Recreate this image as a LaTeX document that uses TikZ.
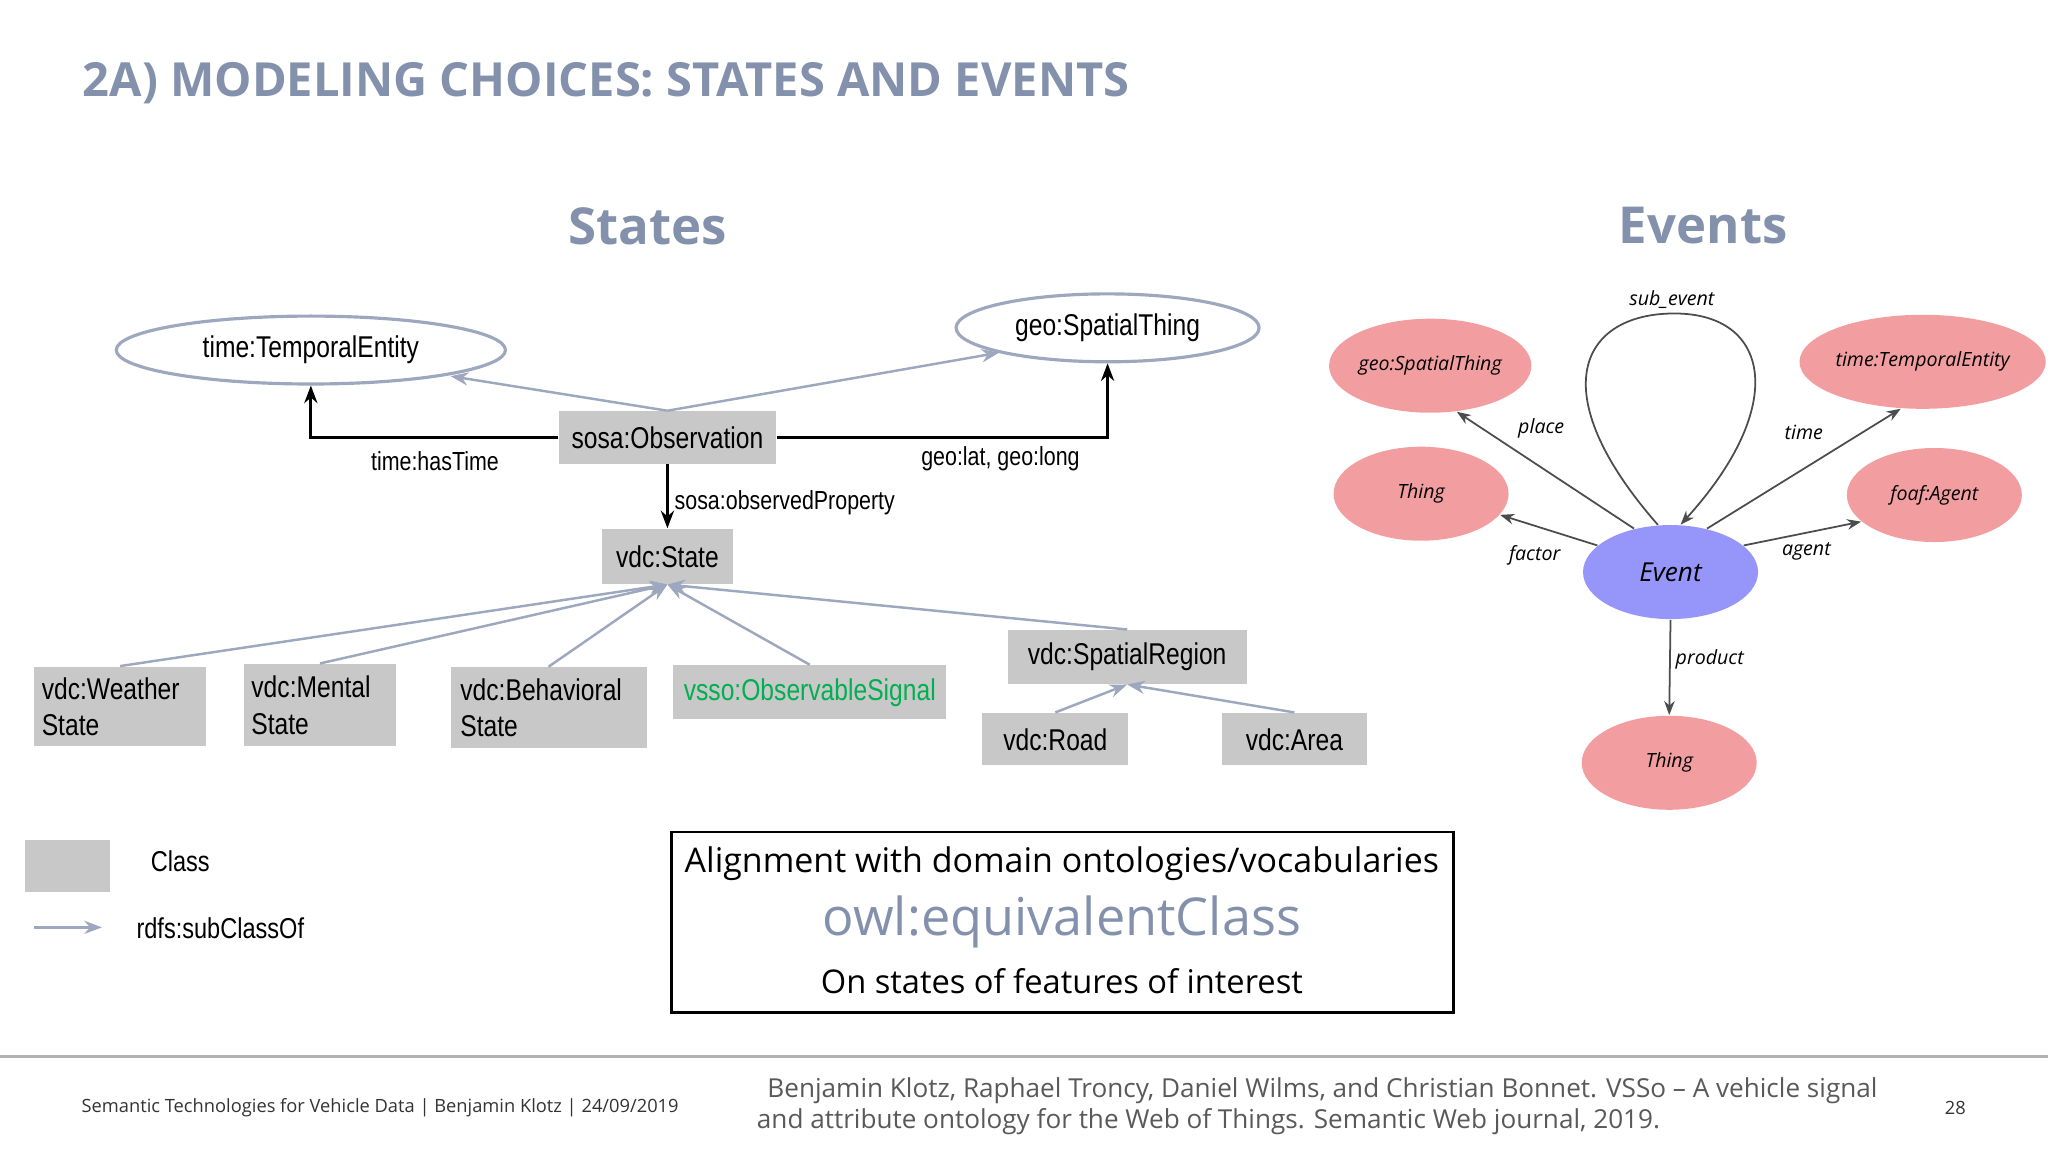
\documentclass[tikz,border=0pt]{standalone}
\usepackage{fontspec}
\setmainfont{Open Sans}
\newfontfamily\nar{Liberation Sans}[FakeStretch=0.82]
\usetikzlibrary{shapes.geometric,arrows.meta}
\definecolor{tb}{RGB}{132,145,172}
\definecolor{bx}{RGB}{200,200,200}
\definecolor{pk}{RGB}{242,158,160}
\definecolor{ev}{RGB}{150,150,250}
\definecolor{gr}{RGB}{0,176,80}
\newcommand{\fsz}[1]{\fontsize{\dimexpr 0.3716pt*#1\relax}{\dimexpr 0.45pt*#1\relax}\selectfont}
\begin{document}
\begin{tikzpicture}[x=0.013061cm,y=-0.013061cm,
 cls/.style={fill=bx,draw=none,inner sep=0pt,font=\nar\fsz{23}},
 ell/.style={ellipse,draw=tb!80,line width=0.9pt,inner sep=0pt,font=\nar\fsz{23}},
 pe/.style={ellipse,fill=pk,inner sep=0pt,minimum width=134*0.013061cm,minimum height=72*0.013061cm,font=\itshape\fsz{15}},
 sub/.style={draw=tb!80,line width=0.7pt,-{Stealth[length=5pt]}},
 rel/.style={draw=black,line width=0.8pt,-{Stealth[length=5pt]}},
 er/.style={draw=black!70,line width=0.5pt,-{Stealth[length=4pt]}},
 lab/.style={font=\nar\fsz{20}},
 elab/.style={font=\itshape\fsz{15}}]
\useasboundingbox (0,0) rectangle (1568,882);
\node[anchor=west,inner sep=0pt,text=tb,font=\bfseries\fsz{36}] (title) at (63,64) {2A) MODELING CHOICES: STATES AND EVENTS};
\node[text=tb,font=\bfseries\fsz{39}] (st) at (496,173) {States};
\node[text=tb,font=\bfseries\fsz{39}] (evh) at (1304,173) {Events};
% states
\node[ell,minimum width=298*0.013061cm,minimum height=52*0.013061cm] (te) at (238,268) {time:TemporalEntity};
\node[ell,minimum width=232*0.013061cm,minimum height=52*0.013061cm] (gs) at (848,251) {geo:SpatialThing};
\node[cls,minimum width=166*0.013061cm,minimum height=40*0.013061cm] (obs) at (511,335) {sosa:Observation};
\node[cls,minimum width=100*0.013061cm,minimum height=42*0.013061cm] (state) at (511,426) {vdc:State};
\node[cls,minimum width=132*0.013061cm,minimum height=61*0.013061cm,align=left,text width=120*0.013061cm] (w) at (92,541) {vdc:Weather\\State};
\node[cls,minimum width=117*0.013061cm,minimum height=63*0.013061cm,align=left,text width=105*0.013061cm] (m) at (245,540) {vdc:Mental\\State};
\node[cls,minimum width=150*0.013061cm,minimum height=62*0.013061cm,align=left,text width=135*0.013061cm] (b) at (420,542) {vdc:Behavioral\\State};
\node[cls,minimum width=209*0.013061cm,minimum height=41*0.013061cm,text=gr] (vs) at (620,530) {vsso:ObservableSignal};
\node[cls,minimum width=183*0.013061cm,minimum height=41*0.013061cm] (sr) at (863,503) {vdc:SpatialRegion};
\node[cls,minimum width=112*0.013061cm,minimum height=40*0.013061cm] (road) at (808,566) {vdc:Road};
\node[cls,minimum width=111*0.013061cm,minimum height=40*0.013061cm] (area) at (991,566) {vdc:Area};
\draw[sub] (obs.north) -- (345,288);
\draw[sub] (obs.north) -- (765,270);
\draw[rel] (obs.west) -| (te.south);
\draw[rel] (obs.east) -| (gs.south);
\node[lab] (l1) at (333,353) {time:hasTime};
\node[lab] (l2) at (766,351) {geo:lat, geo:long};
\draw[rel] (obs.south) -- (state.north);
\node[lab,anchor=west,inner sep=0pt] (l3) at (516,385) {sosa:observedProperty};
\foreach \n in {w,m,b,vs,sr} \draw[sub] (\n.north) -- (state.south);
\draw[sub] (road.north) -- (sr.south);
\draw[sub] (area.north) -- (sr.south);
% legend
\node[fill=bx,minimum width=65*0.013061cm,minimum height=40*0.013061cm,inner sep=0pt] (lg) at (52,663) {};
\node[lab,font=\nar\fsz{22}] (lc) at (138,659) {Class};
\coordinate (a1) at (26,710); \coordinate (a2) at (78,710);
\draw[sub] (a1) -- (a2);
\node[lab,font=\nar\fsz{22},anchor=west,inner sep=0pt] (ls) at (104,711) {rdfs:subClassOf};
% box
\node[draw=black,line width=0.8pt,minimum width=599*0.013061cm,minimum height=138*0.013061cm,inner sep=0pt] (box) at (813.5,706) {};
\node[font=\fsz{26}] (t1) at (813,661) {Alignment with domain ontologies/vocabularies};
\node[font=\fsz{40},text=tb] (t2) at (813,706) {owl:equivalentClass};
\node[font=\fsz{25}] (t3) at (813,751) {On states of features of interest};
% events
\node[pe,minimum width=150*0.013061cm] (eg) at (1095,280) {geo:SpatialThing};
\node[pe,minimum width=150*0.013061cm] (et) at (1472,277) {time:TemporalEntity};
\node[pe] (th1) at (1088,378) {Thing};
\node[pe] (fa) at (1481,379) {foaf:Agent};
\node[pe,fill=ev,font=\itshape\fsz{20}] (e) at (1279,438) {Event};
\node[pe] (th2) at (1278,584) {Thing};
\draw[er] (e.130) -- (eg.-60);
\draw[er] (e.160) -- (th1.-15);
\draw[er] (e.50) -- (et.-115);
\draw[er] (e.20) -- (fa.-160);
\draw[er] (e.south) -- (th2.north);
\draw[er] (e.105) .. controls (1180,300) and (1210,240) .. (1282,240) .. controls (1355,240) and (1370,310) .. (e.78);
\node[elab] (p1) at (1180,328) {place};
\node[elab] (p2) at (1175,425) {factor};
\node[elab] (p3) at (1381,331) {time};
\node[elab] (p4) at (1383,422) {agent};
\node[elab] (p5) at (1309,505) {product};
\node[elab] (p6) at (1280,229) {sub\_event};
% footer
\coordinate (f1) at (0,809); \coordinate (f2) at (1568,809);
\draw[black!30,line width=0.8pt] (f1) -- (f2);
\node[anchor=west,inner sep=0pt,font=\fsz{14},text=black!80] (ft) at (62,848) {Semantic Technologies for Vehicle Data | Benjamin Klotz | 24/09/2019};
\node[anchor=west,inner sep=0pt,font=\fsz{20},text=black!65,align=left] (ref) at (579,847) {\hspace*{3pt}Benjamin Klotz, Raphael Troncy, Daniel Wilms, and Christian Bonnet. VSSo – A vehicle signal\\and attribute ontology for the Web of Things. Semantic Web journal, 2019.};
\node[font=\fsz{14},text=black!80] (pg) at (1497,848) {28};
\end{tikzpicture}
\end{document}
